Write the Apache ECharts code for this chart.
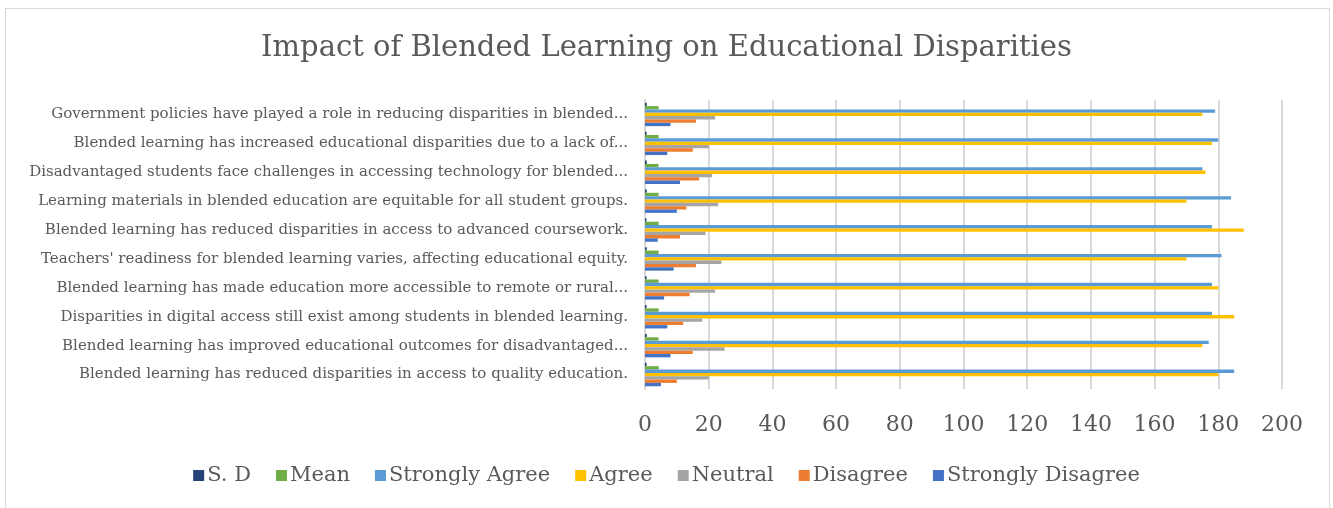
<!DOCTYPE html>
<html>
<head>
<meta charset="utf-8">
<script src="https://cdn.jsdelivr.net/npm/echarts@6/dist/echarts.min.js"></script>
<style>
  html, body { margin: 0; padding: 0; background: #fff; }
  #frame { position: absolute; left: 5px; top: 8px; width: 1325px; height: 510px; border: 1px solid #d9d9d9; box-sizing: border-box; }
  #chart { position: absolute; left: 0; top: 0; width: 1333px; height: 508px; }
</style>
</head>
<body>
<div id="frame"></div>
<div id="chart"></div>
<script>
// categories, bottom to top
const statements = [
  'Blended learning has reduced disparities in access to quality education.',
  'Blended learning has improved educational outcomes for disadvantaged...',
  'Disparities in digital access still exist among students in blended learning.',
  'Blended learning has made education more accessible to remote or rural...',
  "Teachers' readiness for blended learning varies, affecting educational equity.",
  'Blended learning has reduced disparities in access to advanced coursework.',
  'Learning materials in blended education are equitable for all student groups.',
  'Disadvantaged students face challenges in accessing technology for blended...',
  'Blended learning has increased educational disparities due to a lack of...',
  'Government policies have played a role in reducing disparities in blended...'
];
const sdValues = [0.5, 0.55, 0.5, 0.5, 0.55, 0.45, 0.55, 0.55, 0.5, 0.55];
const meanValues = [4.33, 4.25, 4.29, 4.28, 4.25, 4.31, 4.26, 4.22, 4.27, 4.25];
const stronglyAgree = [185, 177, 178, 178, 181, 178, 184, 175, 180, 179];
const agree = [180, 175, 185, 180, 170, 188, 170, 176, 178, 175];
const neutral = [20, 25, 18, 22, 24, 19, 23, 21, 20, 22];
const disagree = [10, 15, 12, 14, 16, 11, 13, 17, 15, 16];
const stronglyDisagree = [5, 8, 7, 6, 9, 4, 10, 11, 7, 8];
const xTicks = [0, 20, 40, 60, 80, 100, 120, 140, 160, 180, 200];

const seriesNames = ['S. D', 'Mean', 'Strongly Agree', 'Agree', 'Neutral', 'Disagree', 'Strongly Disagree'];
const seriesData = [sdValues, meanValues, stronglyAgree, agree, neutral, disagree, stronglyDisagree];
const colors = ['#264478', '#70ad47', '#5b9bd5', '#ffc000', '#a5a5a5', '#ed7d31', '#4472c4'];
const font = '"DejaVu Serif", serif';

const chart = echarts.init(document.getElementById('chart'));
const series = seriesNames.map((name, i) => ({
  name: name,
  type: 'bar',
  data: seriesData[i],
  itemStyle: { color: colors[i] },
  barGap: '0%',
  barCategoryGap: '19%'
}));

chart.setOption({
  animation: false,
  title: {
    text: 'Impact of Blended Learning on Educational Disparities',
    left: 'center',
    top: 29,
    textStyle: { fontFamily: font, fontSize: 29, fontWeight: 'normal', color: '#595959' }
  },
  legend: {
    data: seriesNames,
    bottom: 17,
    left: 'center',
    itemWidth: 11,
    itemHeight: 11,
    itemGap: 25,
    icon: 'rect',
    textStyle: { fontFamily: font, fontSize: 21, color: '#595959', padding: [0, 0, 0, -2] }
  },
  grid: { left: 645, right: 51, top: 100, bottom: 119, containLabel: false },
  xAxis: {
    type: 'value',
    min: xTicks[0],
    max: xTicks[xTicks.length - 1],
    interval: 20,
    axisLine: { show: false },
    axisTick: { show: false },
    axisLabel: { fontFamily: font, fontSize: 22, color: '#595959', margin: 25 },
    splitLine: { lineStyle: { color: '#d9d9d9', width: 2 } }
  },
  yAxis: {
    type: 'category',
    data: statements,
    axisLine: { lineStyle: { color: '#d9d9d9', width: 2 } },
    axisTick: { show: false },
    axisLabel: { fontFamily: font, fontSize: 15, color: '#595959', margin: 17 }
  },
  series: series
});
</script>
</body>
</html>
